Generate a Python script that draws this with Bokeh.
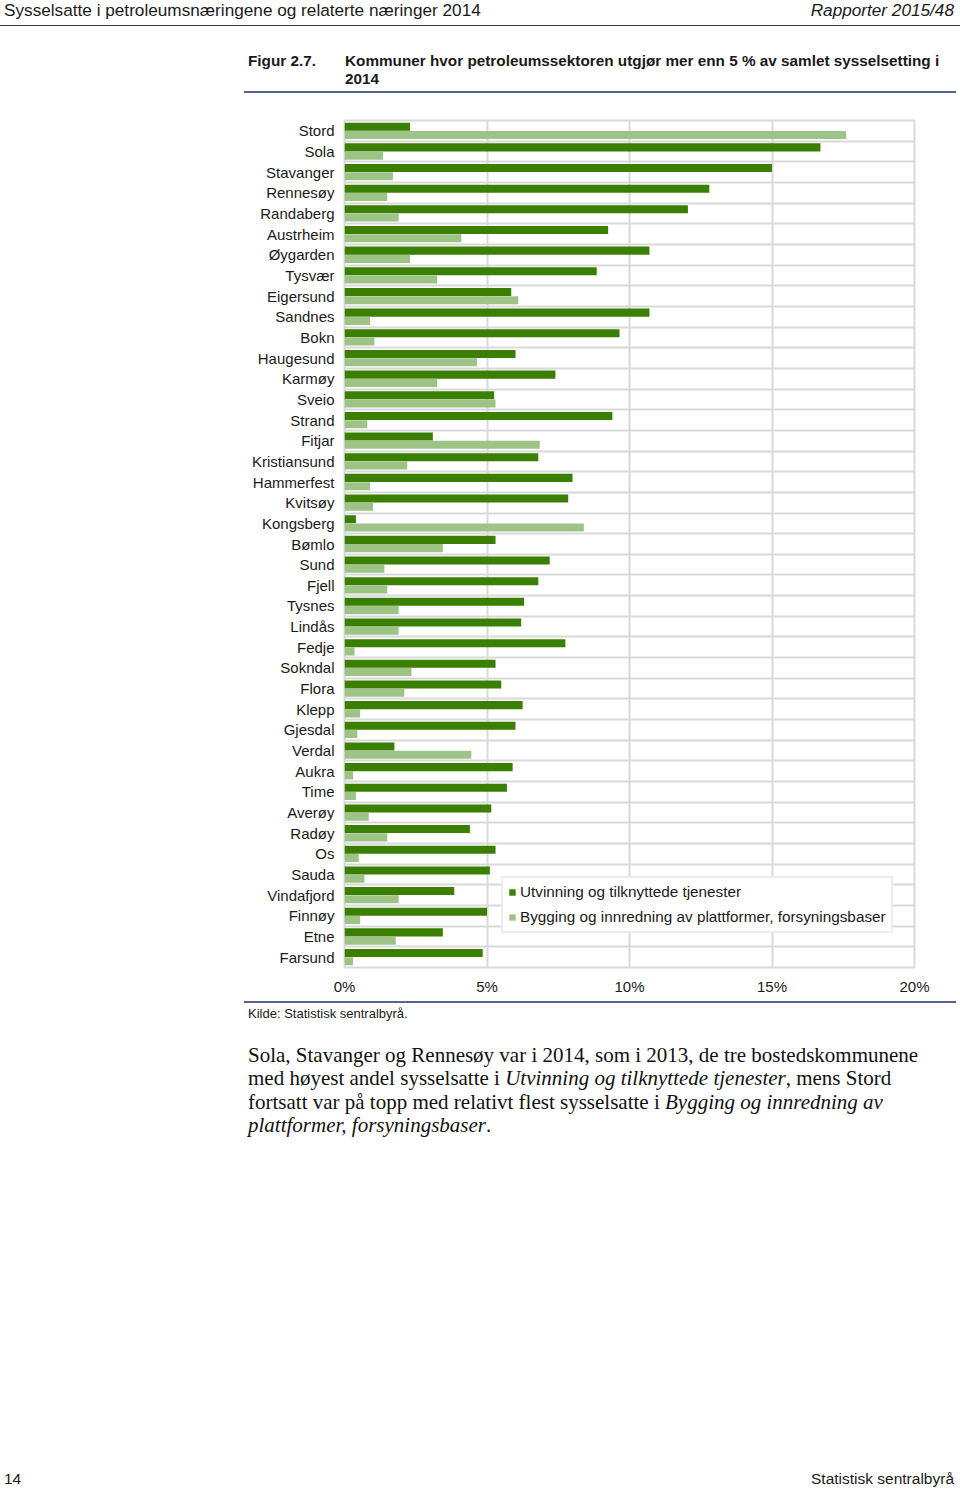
from bokeh.plotting import figure
from bokeh.layouts import column
from bokeh.models import (ColumnDataSource, FixedTicker, PrintfTickFormatter,
                          Legend, LegendItem, Range1d, Div)
from bokeh.embed import file_html
from bokeh.resources import INLINE

# ---------------- data ----------------
kommuner = ["Stord", "Sola", "Stavanger", "Rennesøy", "Randaberg", "Austrheim", "Øygarden",
            "Tysvær", "Eigersund", "Sandnes", "Bokn", "Haugesund", "Karmøy", "Sveio", "Strand",
            "Fitjar", "Kristiansund", "Hammerfest", "Kvitsøy", "Kongsberg", "Bømlo", "Sund",
            "Fjell", "Tysnes", "Lindås", "Fedje", "Sokndal", "Flora", "Klepp", "Gjesdal",
            "Verdal", "Aukra", "Time", "Averøy", "Radøy", "Os", "Sauda", "Vindafjord",
            "Finnøy", "Etne", "Farsund"]
utvinning = [2.3, 16.7, 15.0, 12.8, 12.05, 9.25, 10.7, 8.85, 5.85, 10.7, 9.65, 6.0, 7.4,
             5.25, 9.4, 3.1, 6.8, 8.0, 7.85, 0.4, 5.3, 7.2, 6.8, 6.3, 6.2, 7.75, 5.3, 5.5,
             6.25, 6.0, 1.75, 5.9, 5.7, 5.15, 4.4, 5.3, 5.1, 3.85, 5.0, 3.45, 4.85]
bygging = [17.6, 1.35, 1.7, 1.5, 1.9, 4.1, 2.3, 3.25, 6.1, 0.9, 1.05, 4.65, 3.25, 5.3, 0.8,
           6.85, 2.2, 0.9, 1.0, 8.4, 3.45, 1.4, 1.5, 1.9, 1.9, 0.35, 2.35, 2.1, 0.55, 0.45,
           4.45, 0.3, 0.4, 0.85, 1.5, 0.5, 0.7, 1.9, 0.55, 1.8, 0.3]
series_names = ["Utvinning og tilknyttede tjenester",
                "Bygging og innredning av plattformer, forsyningsbaser"]
x_ticks = [0, 5, 10, 15, 20]

header_left = "Sysselsatte i petroleumsnæringene og relaterte næringer 2014"
header_right = "Rapporter 2015/48"
fig_no = "Figur 2.7."
fig_title = ["Kommuner hvor petroleumssektoren utgjør mer enn 5 % av samlet sysselsetting i",
             "2014"]
source_note = "Kilde: Statistisk sentralbyrå."
body_lines = [
    "Sola, Stavanger og Rennesøy var i 2014, som i 2013, de tre bostedskommunene",
    "med høyest andel sysselsatte i <i>Utvinning og tilknyttede tjenester</i>, mens Stord",
    "fortsatt var på topp med relativt flest sysselsatte i <i>Bygging og innredning av</i>",
    "<i>plattformer, forsyningsbaser</i>.",
]
footer_left = "14"
footer_right = "Statistisk sentralbyrå"

DARK = "#3b7f00"
LIGHT = "#9dc486"
GRID = "#d9d9d9"
RULE = "#56658a"
INK = "#1a1a1a"
SANS = "Liberation Sans"
SERIF = "Liberation Serif"
W = 960

# ---------------- page sections (pixel coordinates) ----------------
TOP_H = 116          # page y 0..116
CH_TOP = 4           # chart canvas starts at page y 116; frame top at 120
FL, FR, FT, FB = 344, 914, 120, 967
CH_BOT = 30          # chart canvas ends at 997
BOT_Y0 = FB + CH_BOT
BOT_H = 1487 - BOT_Y0


def span(txt, left, cy, size, lh, style="", right=None):
    pos_css = f"right:{right}px;" if right is not None else f"left:{left}px;"
    return (f'<span style="position:absolute;{pos_css}top:{cy - lh / 2:.1f}px;'
            f'font-size:{size}px;line-height:{lh}px;white-space:nowrap;{style}">{txt}</span>')


def bar(left, width, top, h, color):
    return (f'<div style="position:absolute;left:{left}px;top:{top}px;width:{width}px;'
            f'height:{h}px;background:{color};"></div>')


# ---- top section: running header + figure title ----
top_html = (
    f'<div style="position:relative;width:{W}px;height:{TOP_H}px;overflow:hidden;'
    f'font-family:\'{SANS}\';color:{INK};">'
    + span(header_left, 4, 10, 17.2, 20)
    + span(header_right, None, 10, 17.2, 20, "font-style:italic;", right=W - 954)
    + bar(0, W, 24.5, 1.5, "#3a3a3a")
    + span(fig_no, 248, 61, 15.3, 18, "font-weight:bold;")
    + span(fig_title[0], 345, 61, 15.3, 18, "font-weight:bold;")
    + span(fig_title[1], 345, 79, 15.3, 18, "font-weight:bold;")
    + bar(244, 712, 91, 2, RULE)
    + '</div>'
)
top = Div(text=top_html, width=W, height=TOP_H, margin=0)

# ---- chart ----
n = len(kommuner)
pos = [n - i - 0.5 for i in range(n)]
src = ColumnDataSource(dict(k=kommuner, pos=pos,
                            y_u=[v + 0.2 for v in pos], y_b=[v - 0.2 for v in pos],
                            u=utvinning, b=bygging))

p = figure(frame_width=FR - FL, frame_height=FB - FT,
           min_border_left=FL, min_border_right=W - FR,
           min_border_top=CH_TOP, min_border_bottom=CH_BOT,
           x_range=Range1d(0, 20), y_range=Range1d(0, n),
           output_backend="svg", toolbar_location=None,
           background_fill_color="white", border_fill_color="white")

r1 = p.hbar(y="y_u", right="u", left=0, height=0.39, source=src,
            fill_color=DARK, line_color=None)
r2 = p.hbar(y="y_b", right="b", left=0, height=0.39, source=src,
            fill_color=LIGHT, line_color=None)

p.xaxis.ticker = FixedTicker(ticks=x_ticks)
p.xaxis.formatter = PrintfTickFormatter(format="%d%%")
p.yaxis.ticker = FixedTicker(ticks=pos)
p.yaxis.major_label_overrides = {v: k for v, k in zip(pos, kommuner)}
for ax in (p.xaxis[0], p.yaxis[0]):
    ax.axis_line_color = None
    ax.major_tick_line_color = None
    ax.minor_tick_line_color = None
    ax.major_tick_out = 0
    ax.major_tick_in = 0
    ax.major_label_standoff = 10
    ax.major_label_text_font = SANS
    ax.major_label_text_font_size = "15px"
    ax.major_label_text_color = INK

p.xgrid.ticker = FixedTicker(ticks=x_ticks)
p.ygrid.ticker = FixedTicker(ticks=list(range(n + 1)))
for g in (p.xgrid[0], p.ygrid[0]):
    g.grid_line_color = GRID
    g.grid_line_width = 2
p.outline_line_color = GRID
p.outline_line_width = 2

legend = Legend(items=[LegendItem(label=series_names[0], renderers=[r1]),
                       LegendItem(label=series_names[1], renderers=[r2])],
                location=(501 - FL, FB - 933))
legend.label_text_font = SANS
legend.label_text_font_size = "15.3px"
legend.label_text_color = INK
legend.glyph_width = 8
legend.glyph_height = 8
legend.label_height = 16
legend.spacing = 7
legend.padding = 5
legend.margin = 0
legend.label_standoff = 4
legend.border_line_color = GRID
legend.border_line_width = 2
legend.background_fill_color = "white"
legend.background_fill_alpha = 1
p.add_layout(legend)

# ---- bottom section: source, body text, footer ----
body_spans = "".join(
    span(line, 248, cy - BOT_Y0, 21, 23.4, f"font-family:'{SERIF}';color:#111111;")
    for line, cy in zip(body_lines, [1056, 1079, 1103, 1126])
)
bot_html = (
    f'<div style="position:relative;width:{W}px;height:{BOT_H}px;overflow:hidden;'
    f'font-family:\'{SANS}\';color:{INK};">'
    + bar(244, 712, 1002 - BOT_Y0 - 1, 2, RULE)
    + span(source_note, 248, 1013 - BOT_Y0, 13, 15)
    + body_spans
    + span(footer_left, 4, 1479 - BOT_Y0, 15.5, 18)
    + span(footer_right, None, 1479 - BOT_Y0, 15.5, 18, right=W - 954)
    + '</div>'
)
bot = Div(text=bot_html, width=W, height=BOT_H, margin=0)

layout = column(top, p, bot, spacing=0)
open("out.html", "w").write(file_html(layout, INLINE))
